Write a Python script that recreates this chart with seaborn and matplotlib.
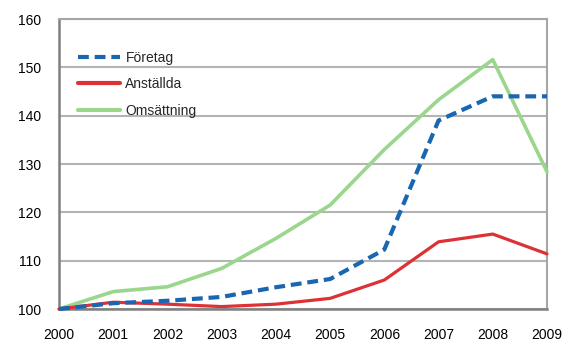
import pandas as pd
import numpy as np
import matplotlib
matplotlib.use('Agg')
import matplotlib.pyplot as plt
from matplotlib.lines import Line2D
import seaborn as sns

# Data (index, 2000 = 100)
years = [2000, 2001, 2002, 2003, 2004, 2005, 2006, 2007, 2008, 2009]
foretag = [100, 101.2, 101.7, 102.5, 104.5, 106.2, 112.3, 139.0, 144.0, 144.0]
anstallda = [100, 101.4, 101.0, 100.5, 101.0, 102.2, 106.0, 113.9, 115.5, 111.4]
omsattning = [100, 103.6, 104.6, 108.4, 114.6, 121.5, 133.0, 143.3, 151.6, 128.4]
series_names = ['Företag', 'Anställda', 'Omsättning']
yticks = [100, 110, 120, 130, 140, 150, 160]

df = pd.DataFrame({
    'År': years * 3,
    'Index': foretag + anstallda + omsattning,
    'Serie': np.repeat(series_names, len(years)),
})

sns.set_theme(style='white')
plt.rcParams['font.family'] = ['Liberation Sans', 'DejaVu Sans']

fig = plt.figure(figsize=(5.81, 3.58), dpi=100)
ax = fig.add_axes([59 / 581, 1 - 309 / 358, (547 - 59) / 581, (309 - 19) / 358])

palette = {'Företag': '#1b66b1', 'Anställda': '#dc3236', 'Omsättning': '#9ad68c'}
widths = {'Företag': 3.0, 'Anställda': 2.3, 'Omsättning': 2.6}

sns.lineplot(data=df, x='År', y='Index', hue='Serie', hue_order=series_names,
             palette=palette, ax=ax, legend=False)
for line, name in zip(ax.get_lines(), series_names):
    line.set_linewidth(widths[name])
    line.set_clip_on(False)
    line.set_solid_joinstyle('round')
    if name == 'Företag':
        line.set_linestyle((0, (2.6, 1.4)))
        line.set_zorder(5)
    elif name == 'Anställda':
        line.set_zorder(4)
    else:
        line.set_zorder(3)

ax.set_xlim(2000, 2009)
ax.set_ylim(100, 160)
ax.set_xticks(years)
ax.set_yticks(yticks)
ax.set_xlabel('')
ax.set_ylabel('')
ax.yaxis.grid(True, color='#b4b4b4', linewidth=1.5)
ax.set_axisbelow(True)

for side in ['left', 'bottom']:
    ax.spines[side].set_color('#808080')
    ax.spines[side].set_linewidth(1.8)
for side in ['right', 'top']:
    ax.spines[side].set_color('#a6a6a6')
    ax.spines[side].set_linewidth(1.5)

ax.tick_params(axis='both', which='both', direction='out', colors='#808080',
               labelcolor='black', labelsize=10)
ax.tick_params(axis='y', length=5, width=1.5, pad=8)
ax.tick_params(axis='x', length=5, width=1.5, pad=9)

handles = [
    Line2D([], [], color=palette['Företag'], linewidth=3.0, linestyle=(0, (2.6, 1.4))),
    Line2D([], [], color=palette['Anställda'], linewidth=3.0),
    Line2D([], [], color=palette['Omsättning'], linewidth=3.0),
]
ax.legend(handles, series_names, loc='upper left', bbox_to_anchor=(0.028, 0.91),
          frameon=False, fontsize=10, handlelength=3.0, handletextpad=0.4,
          labelspacing=0.9, borderaxespad=0)

fig.savefig('out.png', dpi=100)
